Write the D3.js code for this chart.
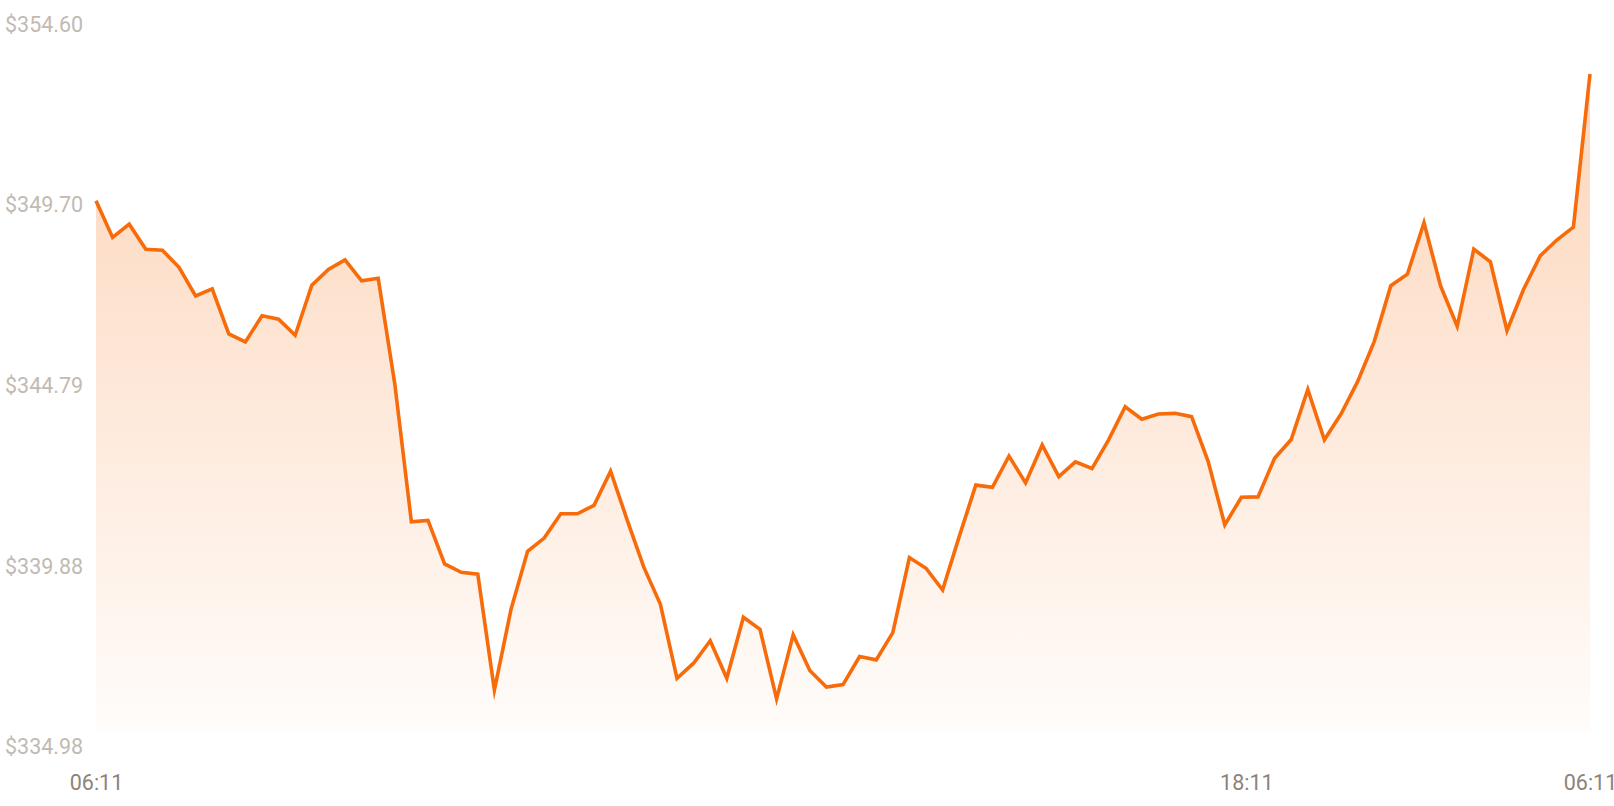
<!DOCTYPE html>
<html>
<head>
<meta charset="utf-8">
<script src="https://cdn.jsdelivr.net/npm/d3@7"></script>
<style>
  html, body { margin: 0; padding: 0; background: #fff; }
  svg { display: block; }
  svg text { font-family: Roboto, "Noto Sans", sans-serif; }
</style>
</head>
<body>
<script>
var WIDTH = 1614, HEIGHT = 806;
var MARGIN = {top: 24, right: 24, bottom: 60, left: 96};

// price samples, one every ~16 min
var prices = [
  349.80, 348.80, 349.16, 348.48, 348.45, 347.99, 347.21, 347.40, 346.18, 345.96,
  346.67, 346.58, 346.14, 347.50, 347.93, 348.19, 347.62, 347.69, 344.82, 341.07,
  341.11, 339.93, 339.70, 339.65, 336.50, 338.69, 340.27, 340.63, 341.29, 341.29,
  341.52, 342.45, 341.12, 339.84, 338.83, 336.82, 337.23, 337.84, 336.82, 338.48,
  338.15, 336.26, 338.00, 337.03, 336.58, 336.65, 337.41, 337.32, 338.06, 340.10,
  339.81, 339.22, 340.67, 342.07, 342.01, 342.86, 342.13, 343.16, 342.30, 342.70,
  342.52, 343.30, 344.20, 343.86, 344.00, 344.02, 343.93, 342.71, 340.99, 341.74,
  341.75, 342.80, 343.31, 344.67, 343.30, 344.00, 344.88, 345.97, 347.49, 347.80,
  349.20, 347.48, 346.39, 348.48, 348.14, 346.27, 347.39, 348.30, 348.73, 349.08,
  353.24
];
var yTicks = [354.60, 349.70, 344.79, 339.88, 334.98];
var xTickIndex = [0, 69.3, 90];
var xTickLabels = ["06:11", "18:11", "06:11"];

var _svg = d3.select("body").append("svg")
  .attr("width", WIDTH)
  .attr("height", HEIGHT);

var _xScale = d3.scaleLinear().domain([0, prices.length - 1]).range([MARGIN.left, WIDTH - MARGIN.right]);
var _yScale = d3.scaleLinear().domain([yTicks[4], yTicks[0]]).range([HEIGHT - MARGIN.bottom, MARGIN.top]);
var fillBase = _yScale.range()[0] - 15;

var grad = _svg.append("defs").append("linearGradient")
  .attr("id", "fade").attr("x1", 0).attr("y1", 0).attr("x2", 0).attr("y2", 1);
grad.append("stop").attr("offset", "0%").attr("stop-color", "#f76b0a").attr("stop-opacity", 0.28);
grad.append("stop").attr("offset", "100%").attr("stop-color", "#f76b0a").attr("stop-opacity", 0.02);

var area = d3.area()
  .x(function(d, i){ return _xScale(i); })
  .y0(fillBase)
  .y1(function(d){ return _yScale(d); });

var line = d3.line()
  .x(function(d, i){ return _xScale(i); })
  .y(function(d){ return _yScale(d); });

_svg.append("path").datum(prices)
  .attr("d", area)
  .attr("fill", "url(#fade)");

_svg.append("path").datum(prices)
  .attr("d", line)
  .attr("fill", "none")
  .attr("stroke", "#f76b0a")
  .attr("stroke-width", 3.6)
  .attr("stroke-linejoin", "miter")
  .attr("stroke-miterlimit", 10);

// y labels
var yAxis = d3.axisLeft(_yScale)
  .tickValues(yTicks)
  .tickSize(0)
  .tickFormat(function(d){ return "$" + d.toFixed(2); });
var gy = _svg.append("g").attr("transform", "translate(5,0)").call(yAxis)
  .attr("font-family", null).attr("font-size", null);
gy.select(".domain").remove();
gy.selectAll("text")
  .attr("x", 0).attr("dy", "0.35em")
  .attr("text-anchor", "start")
  .attr("fill", "#c2bab2")
  .style("font-size", "21.5px");

// x labels
var xAxis = d3.axisBottom(_xScale)
  .tickValues(xTickIndex)
  .tickSize(0)
  .tickFormat(function(d, i){ return xTickLabels[i]; });
var gx = _svg.append("g").attr("transform", "translate(0," + (HEIGHT - MARGIN.bottom) + ")").call(xAxis)
  .attr("font-family", null).attr("font-size", null);
gx.select(".domain").remove();
gx.selectAll("text")
  .attr("y", 36).attr("dy", "0.35em")
  .attr("fill", "#8c837b")
  .style("font-size", "21.5px");
</script>
</body>
</html>
